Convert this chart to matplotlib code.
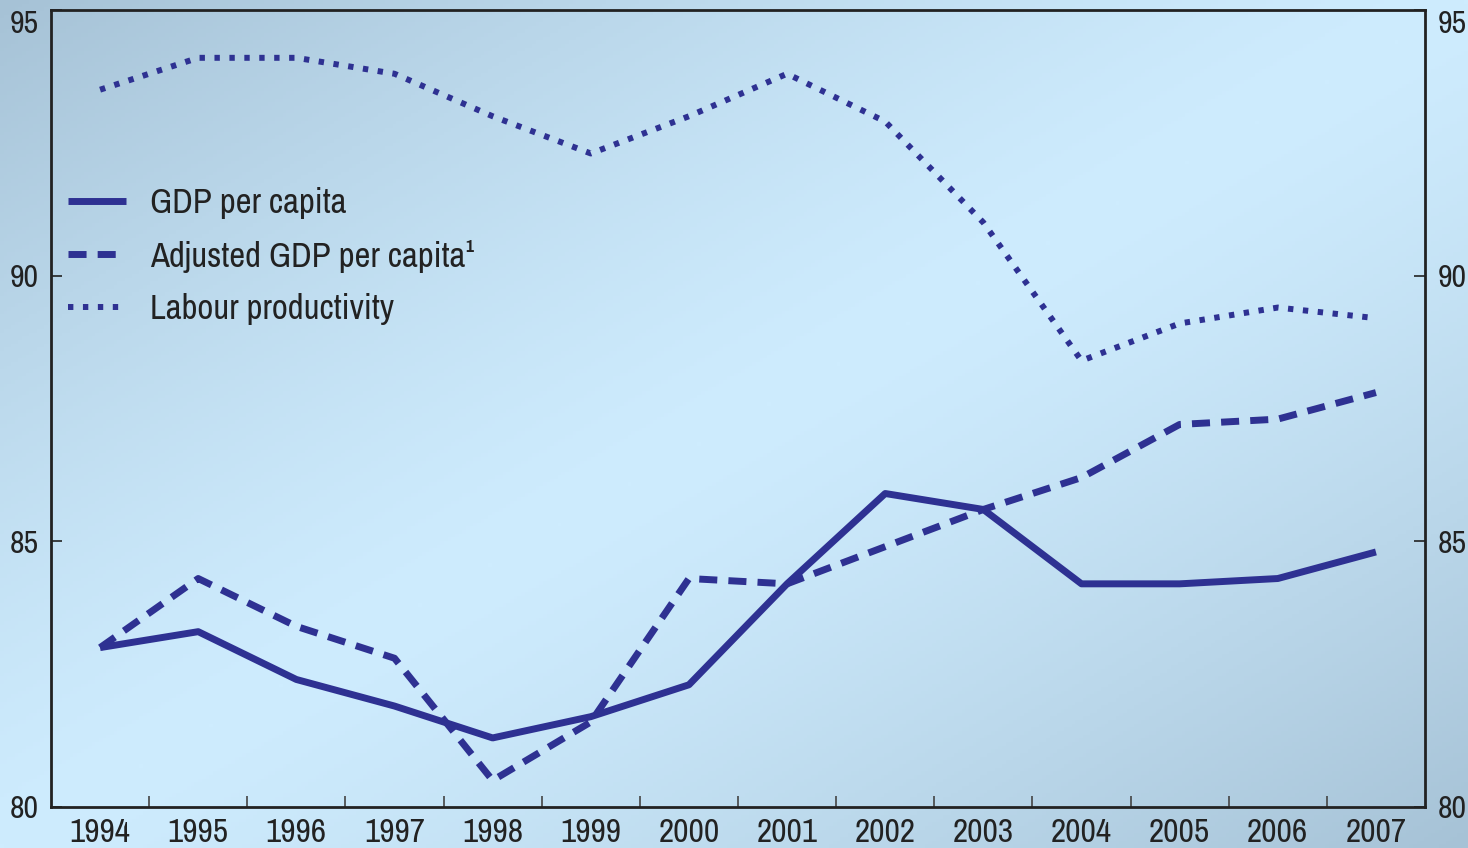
import numpy as np
import matplotlib
matplotlib.use("Agg")
import matplotlib.pyplot as plt
from matplotlib import font_manager

years = list(range(1994, 2008))
gdp_per_capita = [83.0, 83.3, 82.4, 81.9, 81.3, 81.7, 82.3, 84.2, 85.9, 85.6, 84.2, 84.2, 84.3, 84.8]
adjusted_gdp = [83.0, 84.3, 83.4, 82.8, 80.5, 81.6, 84.3, 84.2, 84.9, 85.6, 86.2, 87.2, 87.3, 87.8]
labour_prod = [93.5, 94.1, 94.1, 93.8, 93.0, 92.3, 93.0, 93.8, 92.9, 91.0, 88.4, 89.1, 89.4, 89.2]
labels = ["GDP per capita", "Adjusted GDP per capita\u00b9", "Labour productivity"]

# the original uses an Arial Narrow look, take the first narrow face available
names = {f.name for f in font_manager.fontManager.ttflist}
wanted = ["Liberation Sans Narrow", "Arial Narrow", "Archivo Narrow", "PT Sans Narrow",
          "Pragati Narrow", "Roboto Condensed", "Encode Sans Condensed", "Fira Sans Condensed",
          "IBM Plex Sans Condensed", "Barlow Semi Condensed", "Liberation Sans"]
fam = next((n for n in wanted if n in names), "DejaVu Sans")
plt.rcParams["font.family"] = [fam, "DejaVu Sans"]

line_col = "#2e3192"
fig = plt.figure(figsize=(14.68, 8.48), dpi=100)

# diagonal gradient background for whole figure
bg = fig.add_axes([0, 0, 1, 1], zorder=-10)
W, H = 400, 232
xx, yy = np.meshgrid(np.linspace(0, 1, W), np.linspace(0, 1, H))
t = np.abs((xx + yy) / 2 - 0.5) * 2  # 0 on anti-diagonal, 1 at corners
light = np.array([0xce, 0xec, 0xfe]) / 255
dark = np.array([0xa6, 0xc2, 0xd6]) / 255
img = light[None, None, :] * (1 - t[..., None] ** 1.3) + dark[None, None, :] * t[..., None] ** 1.3
bg.imshow(img, aspect="auto", extent=[0, 1, 0, 1], origin="upper")
bg.axis("off")

ax = fig.add_axes([51 / 1468, 1 - 807 / 848, (1425 - 51) / 1468, (807 - 10) / 848])
ax.patch.set_alpha(0)

ax.plot(years, gdp_per_capita, color=line_col, lw=5, solid_capstyle="butt", label=labels[0])
ax.plot(years, adjusted_gdp, color=line_col, lw=5, ls=(0, (2.6, 1.6)), label=labels[1])
ax.plot(years, labour_prod, color=line_col, lw=4.3, ls=(0, (0.9, 1.6)), label=labels[2])

ax.set_xlim(1993.5, 2007.5)
ax.set_ylim(80, 95)
ax.set_xticks(years)
ax.set_xticks(np.arange(1994.5, 2007.5, 1), minor=True)
ax.tick_params(axis="x", which="major", length=0, labelsize=24, pad=8, colors="#222222")
ax.tick_params(axis="x", which="minor", direction="in", length=8, width=1.2, color="#444444")
ax.set_yticks([80, 85, 90, 95])
ax.tick_params(axis="y", which="major", direction="in", length=8, width=1.2, labelsize=23,
               left=True, right=True, labelleft=True, labelright=True, pad=9, colors="#222222")
# top label sits just under the top edge, as in the original
top = ax.yaxis.get_major_ticks()[-1]
top.label1.set_va("top")
top.label2.set_va("top")
for s in ax.spines.values():
    s.set_linewidth(2)
    s.set_color("#222222")

leg = ax.legend(loc="upper left", bbox_to_anchor=(0.0, 0.80), frameon=False, fontsize=25,
                handlelength=1.65, handletextpad=0.7, labelspacing=0.6, borderaxespad=0.1)
for txt in leg.get_texts():
    txt.set_color("#222222")

fig.savefig("out.png", dpi=100)
